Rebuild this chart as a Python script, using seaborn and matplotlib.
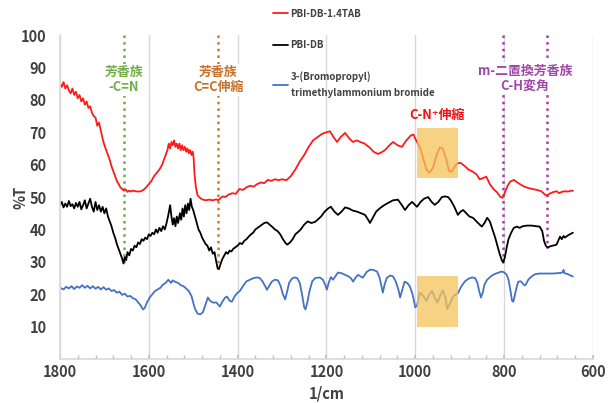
import matplotlib
matplotlib.use("Agg")
import matplotlib.pyplot as plt
from matplotlib.patches import Rectangle
import pandas as pd
import seaborn as sns

# PBI-DB-1.4TAB (red)
red_wn = [1800, 1796, 1792, 1788, 1784, 1780, 1776, 1772, 1768, 1764, 1760, 1756, 1752, 1748, 1744, 1740,
          1736, 1732, 1728, 1724, 1720, 1716, 1712, 1708, 1704, 1700, 1696, 1692, 1688, 1684, 1680, 1676,
          1672, 1668, 1664, 1660, 1656, 1652, 1648, 1644, 1640, 1636, 1630, 1624, 1618, 1612, 1606, 1600,
          1594, 1588, 1582, 1576, 1570, 1566, 1562, 1558, 1555, 1552, 1549, 1546, 1543, 1540, 1537, 1534,
          1531, 1528, 1525, 1522, 1519, 1516, 1513, 1510, 1507, 1504, 1501, 1499, 1497, 1494, 1490, 1485,
          1480, 1472, 1464, 1456, 1448, 1444, 1440, 1434, 1428, 1420, 1412, 1404, 1396, 1388, 1380, 1372,
          1364, 1356, 1348, 1340, 1332, 1324, 1316, 1308, 1300, 1290, 1280, 1270, 1260, 1250, 1240, 1230,
          1220, 1210, 1200, 1192, 1184, 1176, 1168, 1158, 1148, 1140, 1132, 1124, 1114, 1102, 1094, 1084,
          1076, 1068, 1058, 1050, 1040, 1030, 1020, 1010, 1004, 998, 990, 982, 975, 968, 960, 952,
          945, 938, 930, 924, 918, 911, 904, 897, 888, 880, 870, 862, 855, 848, 840, 832,
          824, 816, 808, 803, 798, 792, 786, 778, 770, 762, 754, 746, 736, 726, 716, 708,
          703, 698, 690, 682, 676, 670, 664, 656, 648, 645]
red_t = [85.0, 84.0, 85.5, 83.5, 84.5, 83.0, 82.0, 83.5, 81.5, 82.5, 80.5, 81.5, 79.5, 80.5, 78.5, 79.5,
         77.5, 78.0, 76.0, 75.0, 74.5, 72.0, 73.0, 70.5, 68.0, 66.0, 64.5, 63.0, 61.5, 59.5, 58.0, 56.5,
         55.0, 54.0, 53.0, 52.5, 52.0, 52.3, 51.6, 52.0, 51.7, 52.0, 51.8, 51.7, 51.8, 52.2, 53.0, 54.0,
         55.0, 56.5, 57.5, 58.5, 60.0, 61.5, 63.0, 64.5, 66.5, 65.0, 67.0, 66.0, 67.5, 65.5, 66.5, 65.0,
         66.5, 64.5, 66.0, 64.5, 65.5, 64.0, 65.0, 63.5, 64.5, 63.0, 64.0, 62.0, 57.0, 53.0, 50.5, 49.8,
         49.3, 49.0, 49.2, 49.0, 49.3, 49.0, 49.5, 50.2, 50.0, 50.8, 51.2, 51.0, 52.5, 52.2, 53.0, 53.5,
         53.2, 54.0, 54.5, 54.3, 55.3, 55.0, 55.5, 55.2, 55.5, 55.2, 56.5, 58.5, 61.0, 63.0, 65.5, 67.5,
         68.5, 69.5, 70.0, 70.3, 68.5, 67.0, 68.5, 69.8, 68.0, 67.0, 67.5, 67.0, 66.5, 65.2, 64.0, 63.3,
         63.8, 64.5, 66.0, 67.0, 66.0, 65.5, 67.5, 69.0, 69.3, 67.5, 65.5, 62.0, 58.5, 57.5, 59.0, 63.0,
         65.3, 65.0, 61.5, 58.0, 57.8, 59.5, 60.5, 60.5, 59.5, 58.5, 57.8, 57.0, 55.5, 55.8, 56.3, 54.0,
         52.5, 51.5, 50.0, 49.8, 51.5, 53.5, 54.8, 55.3, 54.5, 53.8, 53.2, 52.8, 52.5, 52.2, 51.8, 50.8,
         50.4, 51.0, 51.5, 51.8, 51.2, 51.6, 51.8, 51.7, 52.0, 51.9]

# PBI-DB (black)
black_wn = [1800, 1796, 1792, 1788, 1784, 1780, 1776, 1772, 1768, 1764, 1760, 1756, 1752, 1748, 1744, 1740,
            1736, 1732, 1728, 1724, 1720, 1716, 1712, 1708, 1704, 1700, 1696, 1692, 1688, 1684, 1680, 1676,
            1672, 1668, 1664, 1660, 1657, 1654, 1651, 1648, 1644, 1640, 1636, 1632, 1628, 1624, 1620, 1616,
            1612, 1608, 1604, 1600, 1596, 1592, 1588, 1584, 1580, 1576, 1572, 1568, 1564, 1560, 1556, 1552,
            1549, 1546, 1543, 1540, 1537, 1534, 1530, 1527, 1524, 1521, 1518, 1515, 1512, 1509, 1506, 1503,
            1500, 1496, 1492, 1488, 1484, 1480, 1476, 1472, 1468, 1464, 1460, 1456, 1452, 1448, 1445, 1442,
            1438, 1434, 1430, 1426, 1422, 1418, 1414, 1410, 1405, 1400, 1395, 1390, 1385, 1380, 1375, 1370,
            1365, 1360, 1355, 1350, 1345, 1340, 1334, 1328, 1322, 1316, 1310, 1304, 1298, 1292, 1288, 1282,
            1276, 1270, 1264, 1258, 1250, 1242, 1234, 1226, 1220, 1212, 1204, 1196, 1190, 1182, 1174, 1166,
            1158, 1150, 1140, 1131, 1122, 1113, 1106, 1102, 1096, 1088, 1080, 1070, 1061, 1050, 1039, 1030,
            1023, 1015, 1007, 1000, 996, 988, 980, 971, 963, 956, 948, 940, 933, 926, 920, 912,
            904, 898, 892, 885, 878, 870, 862, 855, 850, 844, 838, 832, 826, 820, 815, 810,
            805, 802, 798, 794, 790, 784, 778, 771, 765, 758, 748, 738, 728, 720, 714, 710,
            706, 702, 696, 690, 682, 678, 674, 670, 666, 663, 658, 652, 645]
black_t = [47.5, 48.5, 46.8, 48.0, 47.0, 48.8, 47.2, 47.8, 46.5, 48.2, 47.0, 48.5, 46.2, 47.5, 49.0, 46.5,
           48.0, 49.5, 47.0, 45.5, 48.5, 46.0, 47.5, 45.5, 47.0, 45.0, 46.5, 44.0, 42.5, 41.0, 39.0, 37.5,
           35.5, 34.0, 32.5, 31.0, 29.5, 31.5, 30.5, 33.0, 32.0, 34.0, 33.5, 35.0, 34.5, 36.0, 35.5, 37.0,
           36.5, 37.5, 37.0, 38.5, 38.0, 39.0, 38.5, 40.0, 39.0, 40.5, 39.5, 41.0, 40.0, 42.0, 44.5, 47.5,
           44.0, 41.5, 43.5, 41.0, 44.0, 42.0, 45.0, 43.0, 46.5, 44.0, 47.5, 45.0, 48.0, 46.0, 49.5, 47.0,
           46.0, 44.0, 42.0, 40.0, 39.0, 37.5, 36.5, 35.5, 35.0, 33.5, 34.5, 32.5, 33.0, 30.0, 28.0, 27.8,
           29.5, 31.0, 32.0, 33.0, 32.5, 33.5, 33.2, 34.0, 34.5, 35.0, 35.8, 35.5, 36.5, 37.0, 37.8, 38.5,
           39.0, 40.0, 40.5, 41.0, 41.5, 42.0, 42.2, 41.5, 40.8, 40.0, 39.5, 38.5, 37.0, 35.8, 35.3, 36.0,
           37.0, 38.5, 39.2, 40.0, 41.5, 42.5, 42.0, 42.3, 43.0, 44.0, 45.5, 46.5, 47.0, 45.5, 44.5, 45.5,
           46.8, 46.5, 45.8, 45.5, 45.0, 44.5, 43.0, 42.0, 43.5, 45.5, 46.5, 47.5, 48.2, 49.0, 49.2, 47.5,
           46.0, 47.5, 48.5, 47.5, 47.0, 48.5, 49.5, 50.0, 48.5, 47.6, 48.5, 50.0, 50.2, 50.0, 49.0, 47.0,
           44.5, 45.5, 46.0, 45.0, 44.0, 43.6, 42.5, 41.5, 40.9, 42.0, 43.6, 42.5, 40.0, 37.5, 35.0, 32.5,
           30.5, 29.8, 31.5, 34.5, 37.0, 39.0, 40.5, 40.9, 40.5, 41.0, 41.2, 41.2, 41.0, 40.9, 39.5, 36.5,
           35.0, 34.4, 34.8, 35.0, 35.3, 36.5, 37.8, 37.0, 38.0, 37.5, 38.0, 38.5, 39.0]

# 3-(Bromopropyl)trimethylammonium bromide (blue)
blue_wn = [1800, 1792, 1786, 1780, 1774, 1768, 1762, 1756, 1750, 1744, 1738, 1732, 1726, 1720, 1714, 1708,
           1702, 1696, 1690, 1684, 1678, 1672, 1666, 1660, 1654, 1648, 1642, 1636, 1630, 1624, 1618, 1613,
           1609, 1604, 1598, 1592, 1586, 1580, 1574, 1568, 1562, 1556, 1550, 1546, 1540, 1534, 1528, 1522,
           1516, 1510, 1504, 1500, 1496, 1490, 1484, 1478, 1472, 1467, 1462, 1455, 1448, 1440, 1434, 1428,
           1424, 1418, 1413, 1406, 1400, 1395, 1388, 1380, 1372, 1364, 1356, 1350, 1344, 1338, 1334, 1329,
           1323, 1316, 1309, 1303, 1298, 1293, 1289, 1284, 1278, 1272, 1266, 1260, 1255, 1250, 1247, 1243,
           1238, 1232, 1225, 1215, 1208, 1203, 1199, 1195, 1190, 1185, 1180, 1174, 1166, 1158, 1150, 1144,
           1140, 1135, 1129, 1123, 1118, 1110, 1102, 1094, 1086, 1080, 1076, 1073, 1069, 1064, 1056, 1050,
           1044, 1038, 1034, 1030, 1024, 1018, 1012, 1006, 1000, 996, 990, 982, 975, 968, 962, 956,
           950, 944, 938, 932, 928, 922, 915, 908, 904, 896, 888, 880, 872, 865, 860, 856,
           852, 848, 844, 838, 830, 822, 814, 806, 800, 794, 790, 786, 782, 779, 776, 772,
           768, 762, 756, 753, 749, 745, 738, 730, 720, 710, 700, 690, 680, 672, 668, 666,
           664, 658, 652, 645]
blue_t = [22.0, 21.5, 22.3, 21.8, 22.5, 21.6, 22.4, 22.0, 22.8, 22.0, 22.6, 21.8, 22.5, 21.7, 22.3, 21.5,
          22.2, 21.4, 21.8, 21.0, 21.3, 20.5, 20.8, 19.8, 20.2, 19.3, 19.5, 18.8, 18.5, 17.5, 16.5, 15.3,
          15.8, 17.5, 19.0, 20.0, 21.0, 21.5, 22.0, 23.0, 23.5, 24.5, 23.5, 24.3, 23.8, 23.5, 22.8, 22.5,
          21.8, 21.0, 19.5, 17.5, 15.5, 14.0, 13.8, 14.5, 17.0, 19.0, 18.0, 17.4, 17.5, 16.2, 17.8, 19.0,
          19.3, 18.0, 17.7, 19.5, 20.5, 21.0, 22.5, 24.0, 24.5, 25.0, 25.2, 25.0, 24.0, 22.5, 21.4, 22.5,
          23.9, 24.5, 24.3, 22.5, 20.0, 18.4, 20.5, 23.5, 24.8, 25.2, 25.0, 23.5, 20.0, 16.0, 15.3, 17.5,
          21.0, 24.0, 25.0, 25.2, 24.5, 23.0, 21.4, 23.5, 25.3, 24.5, 25.5, 26.7, 26.5, 26.0, 25.5, 24.8,
          23.9, 25.0, 26.0, 25.5, 25.1, 26.8, 27.6, 27.5, 27.0, 25.0, 22.5, 20.5, 23.0, 25.1, 25.8, 25.5,
          24.0, 21.5, 19.0, 21.0, 23.9, 23.5, 22.4, 20.0, 16.0, 16.5, 20.5, 19.5, 18.0, 20.0, 21.0, 19.0,
          17.4, 19.5, 21.2, 19.0, 15.5, 17.0, 19.3, 20.0, 20.3, 22.5, 24.0, 24.8, 25.2, 25.0, 23.5, 21.0,
          19.0, 20.5, 23.0, 24.5, 25.5, 26.2, 26.6, 27.0, 26.8, 26.0, 24.5, 21.5, 18.0, 17.7, 19.5, 22.0,
          23.9, 24.0, 23.0, 22.7, 23.5, 24.6, 25.5, 26.2, 26.4, 26.4, 26.4, 26.4, 26.5, 26.6, 26.8, 27.5,
          26.5, 26.3, 25.9, 25.5]

labels = ["PBI-DB-1.4TAB", "PBI-DB", "3-(Bromopropyl)\ntrimethylammonium bromide"]
colors = ["#ff1a1a", "#000000", "#4472c4"]

df = pd.concat([
    pd.DataFrame({"wn": red_wn, "T": red_t, "sample": labels[0]}),
    pd.DataFrame({"wn": black_wn, "T": black_t, "sample": labels[1]}),
    pd.DataFrame({"wn": blue_wn, "T": blue_t, "sample": labels[2]}),
])

sns.set_theme(style="white")
plt.rcParams['font.family'] = ['Noto Sans CJK JP', 'DejaVu Sans']

fig = plt.figure(figsize=(6.09, 4.03), dpi=100)
ax = fig.add_axes([0.0985, 0.109, 0.875, 0.804])

sns.lineplot(data=df, x="wn", y="T", hue="sample", palette=colors, hue_order=labels,
             estimator=None, linewidth=1.3, ax=ax, legend=True)

ax.set_xlim(1800, 600)
ax.set_ylim(0, 100)
ax.set_xticks([1800, 1600, 1400, 1200, 1000, 800, 600])
ax.set_xticks(range(600, 1801, 40), minor=True)
ax.set_yticks(range(10, 101, 10))
ax.grid(axis="x", which="major", color="#d9d9d9", linewidth=1)
ax.tick_params(axis="x", which="both", direction="in", bottom=True, length=3, color="#bfbfbf")
ax.tick_params(axis="both", labelsize=10.5, labelcolor="#404040")
for lab in ax.get_xticklabels() + ax.get_yticklabels():
    lab.set_fontweight("bold")
for s in ["top", "right"]:
    ax.spines[s].set_visible(False)
for s in ["left", "bottom"]:
    ax.spines[s].set_color("#d9d9d9")
ax.set_xlabel("1/cm", fontsize=10.5, fontweight="bold", color="#404040")
ax.set_ylabel("%T", fontsize=10.5, fontweight="bold", color="#404040")
ax.yaxis.set_label_coords(-0.06, 0.5)

# marker lines
ax.plot([1656, 1656], [100, 29.8], ls=":", lw=1.8, color="#70ad47", zorder=1)
ax.plot([1444, 1444], [100, 27.6], ls=":", lw=1.8, color="#d0782f", zorder=1)
ax.plot([802, 802], [100, 29.8], ls=":", lw=1.8, color="#a33fab", zorder=1)
ax.plot([703, 703], [100, 34.4], ls=":", lw=1.8, color="#a33fab", zorder=1)

bbox = dict(facecolor="white", edgecolor="none", pad=1)
ax.text(1656, 86.2, "芳香族\n-C=N", ha="center", va="center", fontsize=9.3, fontweight="bold",
        color="#70ad47", linespacing=1.1, bbox=bbox, zorder=3)
ax.text(1444, 86.2, "芳香族\nC=C伸縮", ha="center", va="center", fontsize=9.3, fontweight="bold",
        color="#c8702a", linespacing=1.1, bbox=bbox, zorder=3)
ax.text(753, 86.7, "m-二置換芳香族\nC-H変角", ha="center", va="center", fontsize=9.3, fontweight="bold",
        color="#a048a8", linespacing=1.1, bbox=bbox, zorder=3)
ax.text(951, 75.4, "C-N⁺伸縮", ha="center", va="center", fontsize=9.3, fontweight="bold",
        color="#ee1111", zorder=3)

# highlight boxes
ax.add_patch(Rectangle((904, 55.9), 92, 15.4, facecolor="#f5c35a", edgecolor="none", alpha=0.75, zorder=4))
ax.add_patch(Rectangle((904, 10.0), 92, 15.7, facecolor="#f5c35a", edgecolor="none", alpha=0.75, zorder=4))

handles, labs = ax.get_legend_handles_labels()
ax.get_legend().remove()
leg = fig.legend(handles, labs, loc="upper left", bbox_to_anchor=(0.434, 1.0), frameon=False,
                 prop={"size": 7, "weight": "bold"}, labelcolor="#404040", handlelength=1.5,
                 handletextpad=0.3, labelspacing=2.2)
for t in leg.get_texts():
    t.set_linespacing(1.7)

fig.savefig("out.png", dpi=100)
